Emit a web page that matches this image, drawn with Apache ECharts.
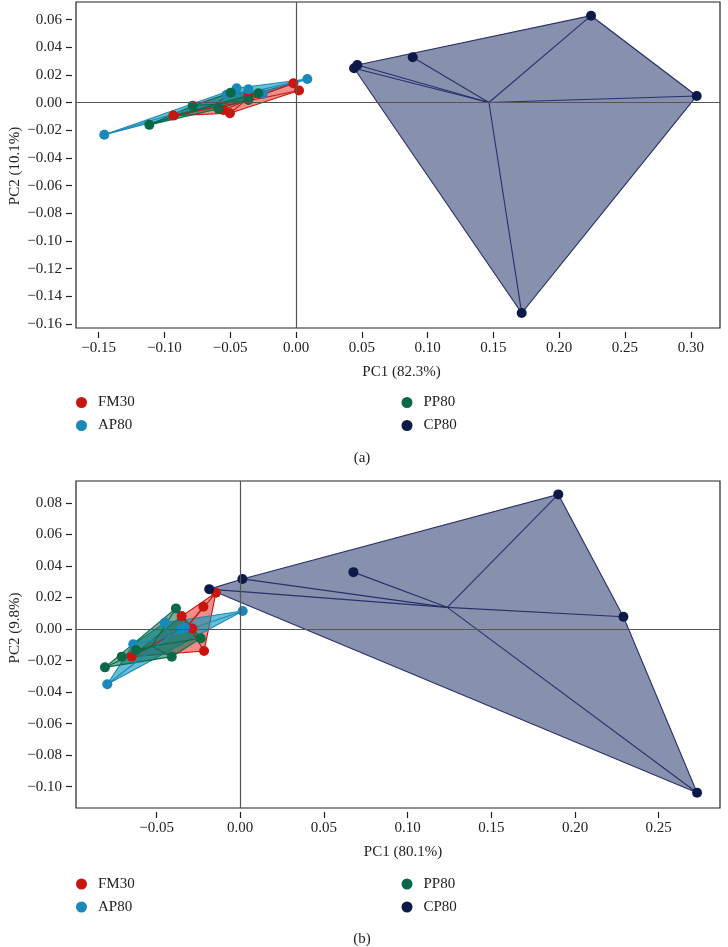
<!DOCTYPE html>
<html>
<head>
<meta charset="utf-8">
<script src="https://cdn.jsdelivr.net/npm/echarts@6/dist/echarts.min.js"></script>
<style>
html,body{margin:0;padding:0;background:#fff;}
#chart{width:728px;height:947px;}
</style>
</head>
<body>
<div id="chart"></div>
<script>
// ---------- DATA ----------
const groups = ['FM30', 'AP80', 'PP80', 'CP80'];

// Panel (a): [PC1, PC2]
const FM30_a = [[-0.0932,-0.0094],[-0.0552,-0.0053],[-0.0502,-0.0077],[-0.0362,0.0048],[-0.0020,0.0140],[0.0023,0.0087]];
const AP80_a = [[-0.1457,-0.0233],[-0.0451,0.0104],[-0.0362,0.0097],[-0.0253,0.0063],[-0.0527,0.0056],[0.0086,0.0171]];
const PP80_a = [[-0.1115,-0.0161],[-0.0785,-0.0022],[-0.0590,-0.0045],[-0.0496,0.0072],[-0.0362,0.0019],[-0.0286,0.0068]];
const CP80_a = [[0.0441,0.0248],[0.0466,0.0272],[0.0887,0.0328],[0.2242,0.0628],[0.3045,0.0048],[0.1715,-0.1521]];

// Panel (b): [PC1, PC2]
const FM30_b = [[-0.0648,-0.0175],[-0.0216,-0.0139],[-0.0286,0.0004],[-0.0220,0.0141],[-0.0350,0.0082],[-0.0145,0.0230]];
const AP80_b = [[-0.0794,-0.0350],[-0.0639,-0.0097],[-0.0350,-0.0002],[-0.0330,0.0010],[-0.0450,0.0040],[0.0015,0.0114]];
const PP80_b = [[-0.0808,-0.0243],[-0.0384,0.0131],[-0.0409,-0.0175],[-0.0236,-0.0059],[-0.0622,-0.0133],[-0.0708,-0.0175]];
const CP80_b = [[0.1900,0.0854],[0.2289,0.0078],[0.0676,0.0361],[0.0013,0.0318],[-0.0185,0.0253],[0.2729,-0.1038]];

// Tick values
const xTicks_a = [-0.15,-0.10,-0.05,0.00,0.05,0.10,0.15,0.20,0.25,0.30];
const yTicks_a = [-0.16,-0.14,-0.12,-0.10,-0.08,-0.06,-0.04,-0.02,0.00,0.02,0.04,0.06];
const xTicks_b = [-0.05,0.00,0.05,0.10,0.15,0.20,0.25];
const yTicks_b = [-0.10,-0.08,-0.06,-0.04,-0.02,0.00,0.02,0.04,0.06,0.08];

const xTitle_a = 'PC1 (82.3%)', yTitle_a = 'PC2 (10.1%)';
const xTitle_b = 'PC1 (80.1%)', yTitle_b = 'PC2 (9.8%)';

// ---------- STYLE ----------
const pointColor = {FM30:'#C8150D', AP80:'#1A88B8', PP80:'#0A6A47', CP80:'#0D1A48'};
const fillColor  = {FM30:'rgba(228,30,20,0.5)', AP80:'rgba(0,150,185,0.6)', PP80:'rgba(10,110,75,0.55)', CP80:'rgba(15,35,93,0.5)'};
const edgeColor  = {FM30:'#C8150D', AP80:'#1A88B8', PP80:'#0A6A47', CP80:'#27306B'};
const FONT = '"Liberation Serif", "DejaVu Serif", serif';
const TXT = '#222';

function centroid(pts){
  let sx=0, sy=0; pts.forEach(p=>{sx+=p[0]; sy+=p[1];});
  return [sx/pts.length, sy/pts.length];
}
function hull(pts){
  const p = pts.slice().sort((a,b)=>a[0]-b[0]||a[1]-b[1]);
  const cross=(o,a,b)=>(a[0]-o[0])*(b[1]-o[1])-(a[1]-o[1])*(b[0]-o[0]);
  const lo=[], up=[];
  for(const q of p){ while(lo.length>=2&&cross(lo[lo.length-2],lo[lo.length-1],q)<=0) lo.pop(); lo.push(q); }
  for(let i=p.length-1;i>=0;i--){ const q=p[i]; while(up.length>=2&&cross(up[up.length-2],up[up.length-1],q)<=0) up.pop(); up.push(q); }
  up.pop(); lo.pop();
  return lo.concat(up);
}
const fmt = v => (Math.abs(v) < 1e-9 ? '0.00' : v.toFixed(2)).replace('-', '\u2212');

const panels = [
  {data:{FM30:FM30_a, AP80:AP80_a, PP80:PP80_a, CP80:CP80_a}, xT:xTicks_a, yT:yTicks_a,
   xMin:-0.1672, xMax:0.3222, yMin:-0.1629, yMax:0.0727, top:2, height:326},
  {data:{FM30:FM30_b, AP80:AP80_b, PP80:PP80_b, CP80:CP80_b}, xT:xTicks_b, yT:yTicks_b,
   xMin:-0.0981, xMax:0.2866, yMin:-0.1135, yMax:0.0939, top:481, height:327}
];

const grid=[], xAxis=[], yAxis=[], series=[];
panels.forEach((P, gi)=>{
  grid.push({left:76, top:P.top, width:644, height:P.height, show:true, borderColor:'#222', borderWidth:1.2, backgroundColor:'transparent', containLabel:false});
  xAxis.push({type:'value', gridIndex:gi, position:'bottom', min:P.xMin, max:P.xMax, offset:4,
    axisLine:{show:false, onZero:false}, splitLine:{show:false},
    axisTick:{show:true, length:6, lineStyle:{color:TXT, width:1.2}, customValues:P.xT},
    axisLabel:{show:true, margin:9, color:TXT, fontFamily:FONT, fontSize:15, customValues:P.xT, formatter:fmt}});
  yAxis.push({type:'value', gridIndex:gi, position:'left', min:P.yMin, max:P.yMax, offset:4,
    axisLine:{show:false, onZero:false}, splitLine:{show:false},
    axisTick:{show:true, length:6, lineStyle:{color:TXT, width:1.2}, customValues:P.yT},
    axisLabel:{show:true, margin:10, color:TXT, fontFamily:FONT, fontSize:15, customValues:P.yT, formatter:fmt}});

  // hulls
  groups.forEach(g=>{
    const h = hull(P.data[g]);
    series.push({type:'custom', name:g+'-hull', xAxisIndex:gi, yAxisIndex:gi, z:1, silent:true,
      data:h,
      renderItem:function(params, api){
        if(params.dataIndex!==0) return null;
        const pts = h.map(v=>api.coord(v));
        return {type:'polygon', shape:{points:pts}, style:{fill:fillColor[g], stroke:edgeColor[g], lineWidth:1.1}};
      }});
  });
  // spokes
  groups.forEach(g=>{
    const c = centroid(P.data[g]);
    series.push({type:'custom', name:g+'-spoke', xAxisIndex:gi, yAxisIndex:gi, z:2, silent:true,
      data:P.data[g],
      renderItem:function(params, api){
        const a = api.coord(c), b = api.coord([api.value(0), api.value(1)]);
        return {type:'line', shape:{x1:a[0],y1:a[1],x2:b[0],y2:b[1]}, style:{stroke:edgeColor[g], lineWidth:1.1}};
      }});
  });
  // zero lines
  series.push({type:'scatter', name:'zero', xAxisIndex:gi, yAxisIndex:gi, z:3, data:[], silent:true,
    markLine:{silent:true, symbol:'none', animation:false, label:{show:false},
      lineStyle:{color:'#555', width:1.2, type:'solid'}, data:[{xAxis:0},{yAxis:0}]}});
  // points
  groups.forEach(g=>{
    series.push({type:'scatter', name:g, xAxisIndex:gi, yAxisIndex:gi, z:4, symbol:'circle', symbolSize:10,
      itemStyle:{color:pointColor[g], opacity:1}, data:P.data[g]});
  });
});

const legendCommon = {orient:'vertical', icon:'circle', itemWidth:11, itemHeight:11, itemGap:7, padding:0,
  selectedMode:false, textStyle:{color:TXT, fontFamily:FONT, fontSize:15, lineHeight:16, padding:[0,0,0,6]}};
const legend = [
  Object.assign({}, legendCommon, {left:76, top:394.5, data:['FM30','AP80']}),
  Object.assign({}, legendCommon, {left:401.5, top:394.5, data:['PP80','CP80']}),
  Object.assign({}, legendCommon, {left:76, top:876, data:['FM30','AP80']}),
  Object.assign({}, legendCommon, {left:401.5, top:876, data:['PP80','CP80']})
];

const txt = (s, x, y, rot) => ({type:'text', x:x, y:y, rotation:rot||0,
  style:{text:s, fill:TXT, font:'15px ' + FONT, align:'center', verticalAlign:'middle'}});
const graphic = [
  txt(xTitle_a, 401.5, 372), txt(yTitle_a, 15, 166, Math.PI/2), txt('(a)', 362, 458),
  txt(xTitle_b, 403, 852), txt(yTitle_b, 15, 628, Math.PI/2), txt('(b)', 362, 939)
];

const chart = echarts.init(document.getElementById('chart'), null, {renderer:'canvas'});
chart.setOption({animation:false, backgroundColor:'#fff', grid, xAxis, yAxis, series, legend, graphic});
</script>
</body>
</html>
